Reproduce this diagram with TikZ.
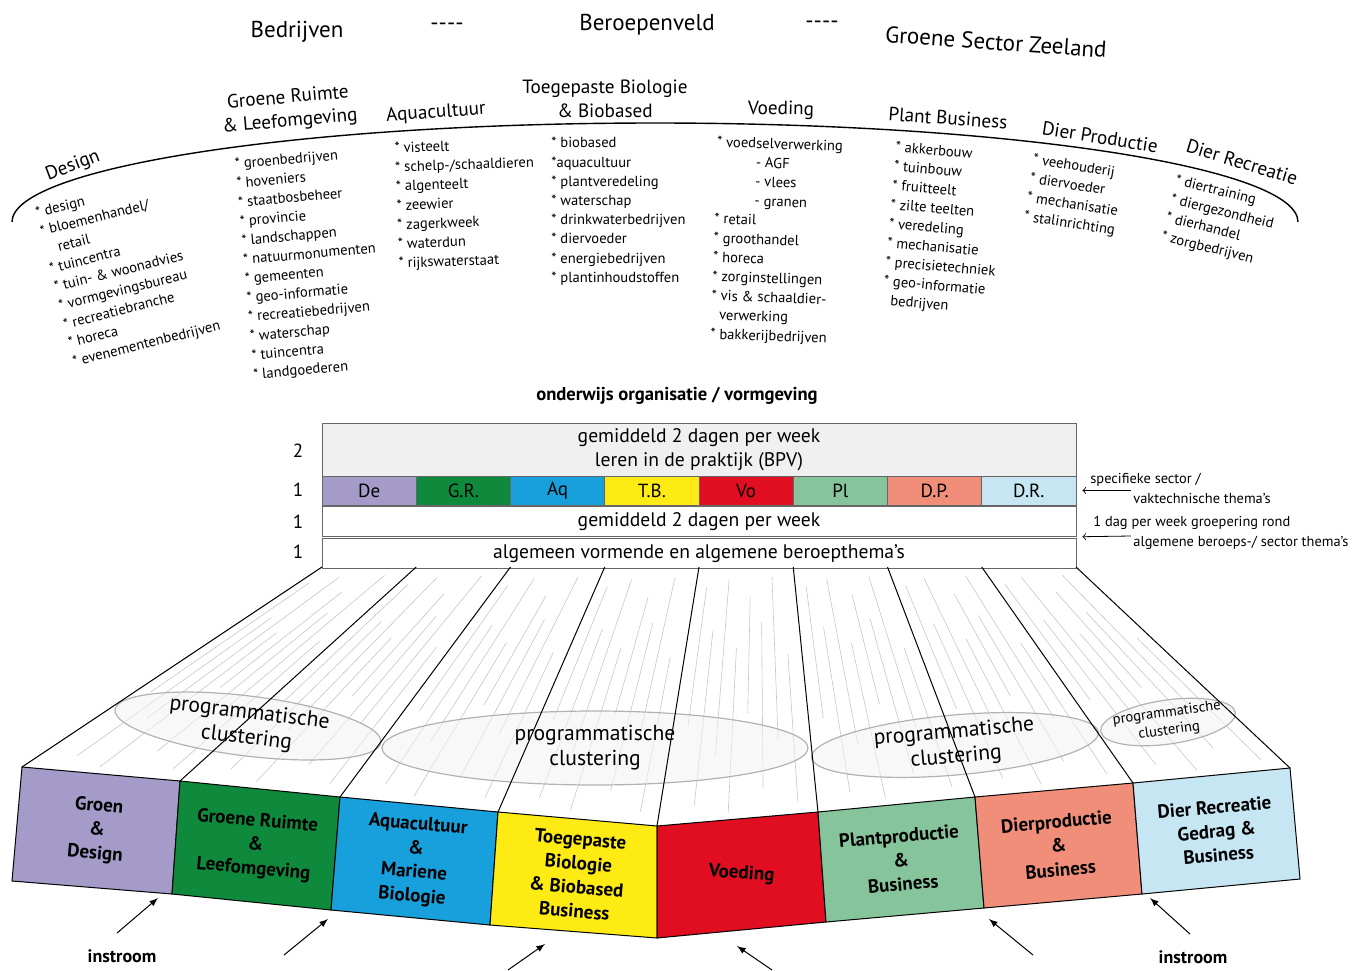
\documentclass[tikz,border=0pt]{standalone}
\usepackage{fontspec}
\setmainfont{PT Sans}
\usetikzlibrary{arrows,positioning,calc}
\definecolor{cDe}{HTML}{A49BC8}
\definecolor{cGR}{HTML}{0F8A3C}
\definecolor{cAq}{HTML}{17A0DC}
\definecolor{cTB}{HTML}{FFEB14}
\definecolor{cVo}{HTML}{E00E20}
\definecolor{cPl}{HTML}{86C59B}
\definecolor{cDP}{HTML}{F08E79}
\definecolor{cDR}{HTML}{C6E6F3}

\begin{document}
\begin{tikzpicture}[
    x=0.5pt, y=-0.5pt,
    head/.style={inner sep=0pt, font=\fontsize{11.5}{13}\selectfont},
    cat/.style={inner sep=0pt, align=center, font=\fontsize{9.6}{11.8}\selectfont},
    items/.style={inner sep=0pt, anchor=north west, align=left, font=\fontsize{7.3}{9.6}\selectfont},
    subhead/.style={inner sep=0pt, font=\bfseries\fontsize{9.3}{11}\selectfont},
    band/.style={draw=black!60, minimum width=377pt, inner sep=0pt, align=center, font=\fontsize{9.8}{12}\selectfont},
    cell/.style={draw=black!60, minimum width=47.125pt, minimum height=14.5pt, inner sep=0pt, font=\fontsize{9.5}{10}\selectfont},
    num/.style={inner sep=0pt, font=\fontsize{9.5}{10}\selectfont},
    note/.style={inner sep=0pt, anchor=west, font=\fontsize{7.2}{8}\selectfont},
    front/.style={draw=black, line width=0.5pt},
    flabel/.style={inner sep=0pt, align=center, font=\bfseries\fontsize{9.5}{12}\selectfont},
    hatch/.style={gray!45, line width=0.3pt},
    cluster/.style={draw=gray!60, line width=0.6pt, fill=gray!10, fill opacity=0.55},
    clutext/.style={inner sep=0pt, align=center, font=\fontsize{10.8}{12.5}\selectfont},
    inlbl/.style={inner sep=0pt, font=\bfseries\fontsize{9}{10}\selectfont},
    inflow/.style={-latex, line width=0.5pt}
]
\useasboundingbox (0,0) rectangle (1371,970);

% kop
\node[head] (bedr) at (297,32) {Bedrijven};
\node[head] (dash1) at (447,27) {-{}-{}-{}-};
\node[head] (beroep) at (647,25) {Beroepenveld};
\node[head] (dash2) at (822,25) {-{}-{}-{}-};
\node[head, rotate=-4] (zeeland) at (996,42) {Groene Sector Zeeland};

% boog met de beroepenvelden
\draw[line width=0.7pt] (12,222) arc[start angle=180, end angle=360, x radius=643, y radius=99];
\node[cat, rotate=21] (catDe) at (73,166) {Design};
\node[cat, rotate=5] (catGR) at (289,110) {Groene Ruimte\\\& Leefomgeving};
\node[cat, rotate=4] (catAq) at (436,113) {Aquacultuur};
\node[cat] (catTB) at (605,99) {Toegepaste Biologie\\\& Biobased};
\node[cat, rotate=-1] (catVo) at (781,110) {Voeding};
\node[cat, rotate=-4] (catPl) at (948,118) {Plant Business};
\node[cat, rotate=-9] (catDP) at (1100,137) {Dier Productie};
\node[cat, rotate=-17] (catDR) at (1242,162) {Dier Recreatie};

\node[items, rotate=14] (lstDe) at (34,207) {* design\\* bloemenhandel/\\\hspace*{0.9em}retail\\* tuincentra\\* tuin- \& woonadvies\\* vormgevingsbureau\\* recreatiebranche\\* horeca\\* evenementenbedrijven};
\node[items, rotate=5] (lstGR) at (234,158) {* groenbedrijven\\* hoveniers\\* staatbosbeheer\\* provincie\\* landschappen\\* natuurmonumenten\\* gemeenten\\* geo-informatie\\* recreatiebedrijven\\* waterschap\\* tuincentra\\* landgoederen};
\node[items, rotate=2] (lstAq) at (394,142) {* visteelt\\* schelp-/schaaldieren\\* algenteelt\\* zeewier\\* zagerkweek\\* waterdun\\* rijkswaterstaat};
\node[items] (lstTB) at (551,137) {* biobased\\*aquacultuur\\* plantveredeling\\* waterschap\\* drinkwaterbedrijven\\* diervoeder\\* energiebedrijven\\* plantinhoudstoffen};
\node[items, rotate=-2] (lstVo) at (717,136) {* voedselverwerking\\\hspace*{2.7em}- AGF\\\hspace*{2.7em}- vlees\\\hspace*{2.7em}- granen\\* retail\\* groothandel\\* horeca\\* zorginstellingen\\* vis \& schaaldier-\\\hspace*{0.55em}verwerking\\* bakkerijbedrijven};
\node[items, rotate=-5] (lstPl) at (896,141) {* akkerbouw\\* tuinbouw\\* fruitteelt\\* zilte teelten\\* veredeling\\* mechanisatie\\* precisietechniek\\* geo-informatie\\\hspace*{0.55em}bedrijven};
\node[items, rotate=-9] (lstDP) at (1034,153) {* veehouderij\\* diervoeder\\* mechanisatie\\* stalinrichting};
\node[items, rotate=-14] (lstDR) at (1177,174) {* diertraining\\* diergezondheid\\* dierhandel\\* zorgbedrijven};

% onderwijs organisatie
\node[subhead] (titel) at (677,396) {onderwijs organisatie / vormgeving};
\node[band, fill=gray!12, minimum height=26.5pt] (bpv) at (699,449.5) {gemiddeld 2 dagen per week\\leren in de praktijk (BPV)};
\foreach \nm/\clr/\lbl [count=\k from 0] in {De/cDe/De, GR/cGR/G.R., Aq/cAq/Aq, TB/cTB/T.B., Vo/cVo/Vo, Pl/cPl/Pl, DP/cDP/D.P., DR/cDR/D.R.}
    \node[cell, fill=\clr] (\nm) at (369.125+94.25*\k, 490.5) {\lbl};
\node[band, minimum height=15pt, anchor=north] (dag1) at (699,506) {gemiddeld 2 dagen per week};
\node[band, minimum height=15pt, below=0.5pt of dag1] (dag2) {algemeen vormende en algemene beroepthema’s};

\node[num] (r2) at (298,451) {2};
\node[num] (r1a) at (298,490) {1};
\node[num] (r1b) at (298,522) {1};
\node[num] (r1c) at (298,552) {1};

\node[note] (spec1) at (1090,480) {specifieke sector /};
\node[note] (spec2) at (1133,498) {vaktechnische thema’s};
\coordinate (ann1) at (1131,490.5);
\draw[->, shorten >=3pt] (ann1) -- (DR.east);
\node[note] (groep1) at (1093,523) {1 dag per week groepering rond};
\node[note] (groep2) at (1133,543) {algemene beroeps-/ sector thema’s};
\coordinate (ann2) at (1131,536);
\draw[->, shorten >=3pt] (ann2) -- (dag1.south east);

% waaier naar de opleidingen
\foreach \i in {0,...,8}
    \coordinate (t\i) at (322+94.25*\i, 567);
\foreach \i/\xx/\yy in {0/22/767, 1/180/781, 2/340/797, 3/498/812, 4/657/826, 5/818/812, 6/975/797, 7/1133/783, 8/1290/768}
    \coordinate (f\i) at (\xx,\yy);
\foreach \i/\xx/\yy in {0/12/881, 1/172/894, 2/331/910, 3/490/925, 4/657/938, 5/826/922, 6/984/908, 7/1142/894, 8/1300/879}
    \coordinate (b\i) at (\xx,\yy);

\foreach \i [count=\j from 1] in {0,...,7}
    \foreach \ff/\sa/\sb in {0.11/0.08/0.62, 0.22/0.25/0.93, 0.33/0.05/0.74, 0.44/0.32/0.97, 0.55/0.12/0.58, 0.66/0.22/0.88, 0.77/0.04/0.69, 0.88/0.35/0.95}{
        \path ($(t\i)!\ff!(t\j)$) coordinate (hu) ($(f\i)!\ff!(f\j)$) coordinate (hv);
        \draw[hatch] ($(hu)!\sa!(hv)$) -- ($(hu)!\sb!(hv)$);
    }

\coordinate (cl1) at (248,726);
\coordinate (cl2) at (595,748);
\coordinate (cl3) at (955,745);
\coordinate (cl4) at (1168,722);
\draw[cluster, rotate around={-7:(cl1)}] (cl1) ellipse [x radius=134, y radius=30];
\draw[cluster] (cl2) ellipse [x radius=213, y radius=37];
\draw[cluster, rotate around={5:(cl3)}] (cl3) ellipse [x radius=144, y radius=30];
\draw[cluster, rotate around={8:(cl4)}] (cl4) ellipse [x radius=68, y radius=22];

\foreach \i in {0,...,8}
    \draw[line width=0.5pt] (t\i) -- (f\i);

\node[clutext, rotate=-7] (ct1) at (cl1) {programmatische\\clustering};
\node[clutext] (ct2) at (cl2) {programmatische\\clustering};
\node[clutext, rotate=5] (ct3) at (cl3) {programmatische\\clustering};
\node[clutext, rotate=8, font=\fontsize{7.3}{8.8}\selectfont] (ct4) at (cl4) {programmatische\\clustering};

\foreach \i/\clr [count=\j from 1] in {0/cDe, 1/cGR, 2/cAq, 3/cTB, 4/cVo, 5/cPl, 6/cDP, 7/cDR}
    \draw[front, fill=\clr] (f\i) -- (f\j) -- (b\j) -- (b\i) -- cycle;

\foreach \i/\lbl/\rot [count=\j from 1] in {0/{Groen\\\&\\Design}/-5, 1/{Groene Ruimte\\\&\\Leefomgeving}/-5, 2/{Aquacultuur\\\&\\Mariene\\Biologie}/-5, 3/{Toegepaste\\Biologie\\\& Biobased\\Business}/-5, 4/{Voeding}/-4, 5/{Plantproductie\\\&\\Business}/5, 6/{Dierproductie\\\&\\Business}/5, 7/{Dier Recreatie\\Gedrag \&\\Business}/5}
    \node[flabel, rotate=\rot] (fl\i) at ($(f\i)!0.5!(b\j)$) {\lbl};

% instroom
\node[inlbl] (in1) at (122,956) {instroom};
\node[inlbl] (in2) at (1193,957) {instroom};
\foreach \k/\xa/\ya/\xb/\yb in {1/117/933/158/898, 2/284/955/328/919, 3/508/970/545/944, 4/772/970/737/946, 5/1033/955/989/919, 6/1190/934/1150/898}{
    \coordinate (ia\k) at (\xa,\ya);
    \coordinate (ib\k) at (\xb,\yb);
    \draw[inflow] (ia\k) -- (ib\k);
}
\end{tikzpicture}
\end{document}
